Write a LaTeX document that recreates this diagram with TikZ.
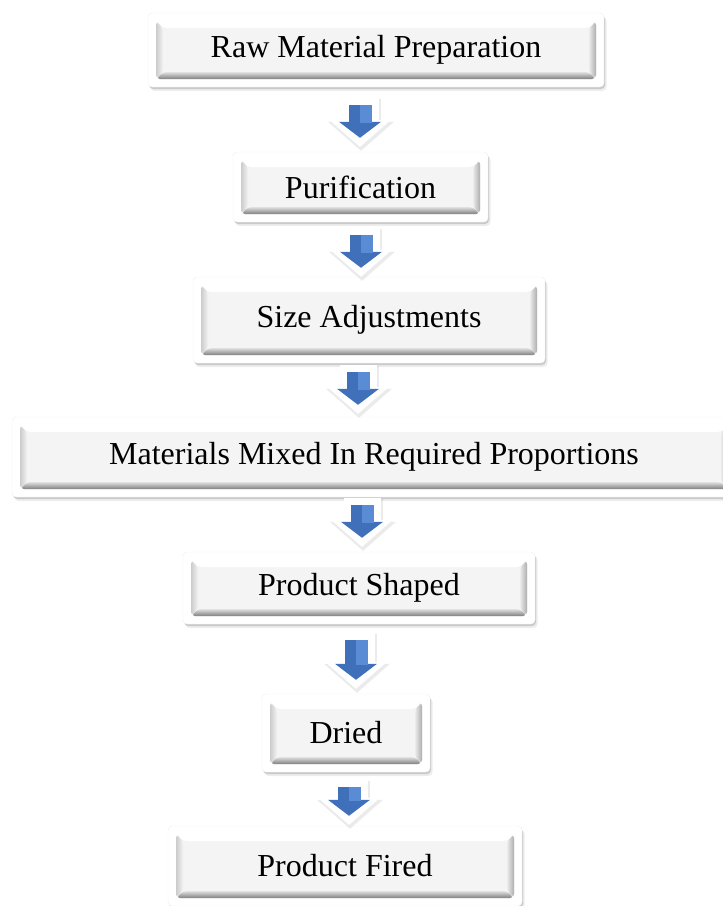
\documentclass[tikz,border=0pt]{standalone}
\usepackage{fontspec}
\setmainfont{Liberation Serif}
\usetikzlibrary{arrows.meta,shadows}

\definecolor{arrowblue}{RGB}{64,112,186}
\definecolor{arrowlight}{RGB}{90,140,214}
\definecolor{boxface}{RGB}{244,244,244}

\tikzset{
  stepbox/.style={rectangle, rounded corners=4pt, fill=white, draw=black!6, inner sep=0pt,
    font=\fontsize{32pt}{38pt}\selectfont,
    drop shadow={shadow xshift=1pt, shadow yshift=-2pt, opacity=.15, fill=black},
    drop shadow={shadow xshift=2.5pt, shadow yshift=-4pt, opacity=.07, fill=black},
    path picture={
      \coordinate (pa) at ([shift={(8pt,8pt)}]path picture bounding box.south west);
      \coordinate (pb) at ([shift={(-8pt,-8pt)}]path picture bounding box.north east);
      \coordinate (qa) at ([shift={(7pt,7pt)}]pa);
      \coordinate (qb) at ([shift={(-7pt,-7pt)}]pb);
      \fill[boxface] (pa) rectangle (pb);
      \shade[top color=black!12, bottom color=black!50] (pa) -- (pa -| pb) -- (qa -| qb) -- (qa) -- cycle;
      \shade[left color=black!8, right color=black!32] (pa -| pb) -- (pb) -- (qb) -- (qa -| qb) -- cycle;
      \fill[white] (pb -| pa) -- (pb) -- (qb) -- (qb -| qa) -- cycle;
      \shade[left color=black!20, right color=black!5] (pa) -- (pb -| pa) -- (qb -| qa) -- (qa) -- cycle;
    }},
  arrowshade/.style 2 args={line width=39pt, draw=black, opacity=.08, shorten <=#1-8pt, shorten >=#2-11pt,
    -{Triangle[width=66pt,length=29pt,line width=0pt]}, transform canvas={xshift=1pt,yshift=-2pt}},
  arrowhalo/.style 2 args={line width=37pt, draw=white, shorten <=#1-7pt, shorten >=#2-9pt,
    -{Triangle[width=62pt,length=27pt,line width=0pt]}},
  flowarrow/.style 2 args={line width=23pt, draw=arrowblue, shorten <=#1, shorten >=#2,
    -{Triangle[width=42pt,length=16pt,line width=0pt]}},
  arrowridge/.style 2 args={line width=11.5pt, draw=arrowlight, shorten <=#1, shorten >=#2+15pt,
    transform canvas={xshift=5.75pt}},
}

\begin{document}
\begin{tikzpicture}[x=1pt, y=-1pt]

    \useasboundingbox[fill=white] (0,0) rectangle (723,906);

    % Process boxes
    \node[stepbox, minimum width=456pt, minimum height=74pt] (b1) at (376,50) {Raw Material Preparation};
    \node[stepbox, minimum width=255pt, minimum height=70pt] (b2) at (360.5,187) {Purification};
    \node[stepbox, minimum width=352pt, minimum height=86pt] (b3) at (369,320) {Size Adjustments};
    \node[stepbox, minimum width=724pt, minimum height=80pt] (b4) at (374,457) {Materials Mixed In Required Proportions};
    \node[stepbox, minimum width=352pt, minimum height=72pt] (b5) at (359,588) {Product Shaped};
    \node[stepbox, minimum width=168pt, minimum height=78pt] (b6) at (346,733) {Dried};
    \node[stepbox, minimum width=354pt, minimum height=80pt] (b7) at (345,866) {Product Fired};

    % Block arrows between the boxes
    \foreach \a/\b/\x/\s/\e in {b1/b2/360/18/14, b2/b3/361/13/9, b3/b4/358/9/12,
                                 b4/b5/362/8/14, b5/b6/356/16/14, b6/b7/349/15/10}{
      \coordinate (ax) at (\x,0);
      \draw[arrowshade={\s pt}{\e pt}] (\a.south -| ax) -- (\b.north -| ax);
      \draw[arrowhalo={\s pt}{\e pt}] (\a.south -| ax) -- (\b.north -| ax);
      \draw[flowarrow={\s pt}{\e pt}] (\a.south -| ax) -- (\b.north -| ax);
      \draw[arrowridge={\s pt}{\e pt}] (\a.south -| ax) -- (\b.north -| ax);
    }

\end{tikzpicture}
\end{document}
